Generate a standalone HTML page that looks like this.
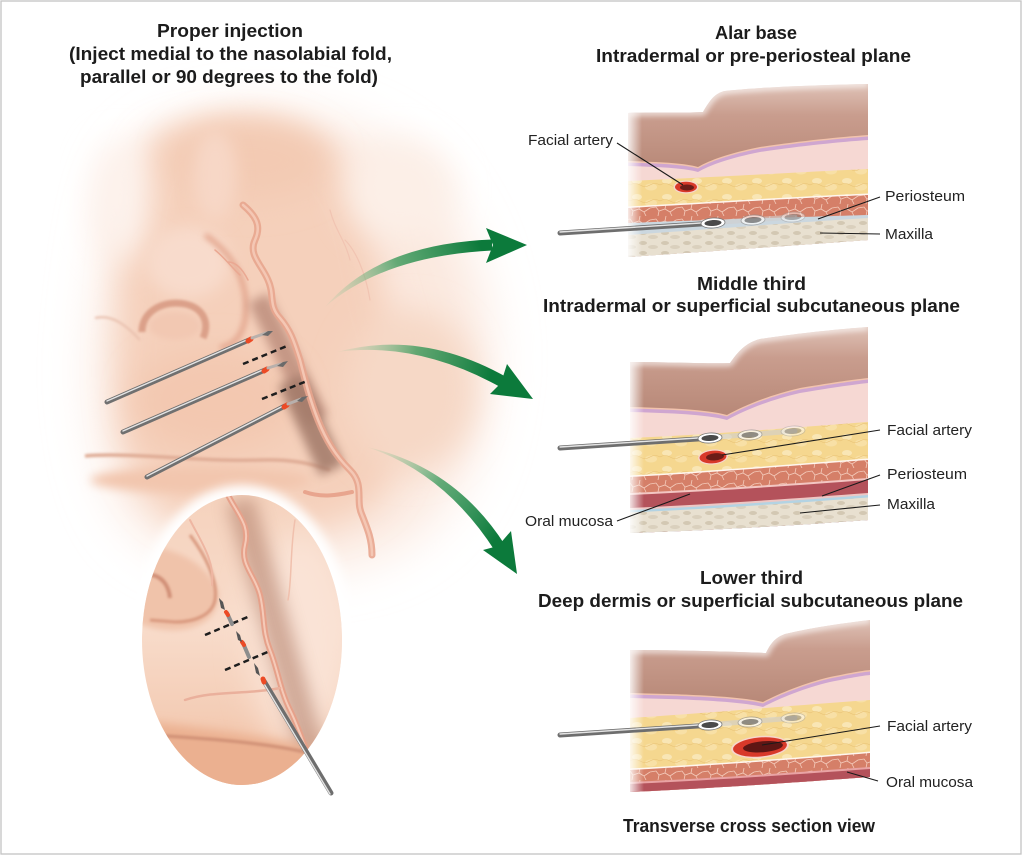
<!DOCTYPE html>
<html><head><meta charset="utf-8">
<style>
html,body{margin:0;padding:0;background:#fff;}
svg{display:block;}
.t{font-family:"Liberation Sans",sans-serif;font-weight:bold;font-size:18px;fill:#1c1c1c;}
.l{font-family:"Liberation Sans",sans-serif;font-size:15px;fill:#222;}
</style></head><body>
<svg width="1023" height="856" viewBox="0 0 1023 856" xmlns="http://www.w3.org/2000/svg">
<defs>
  <filter id="b25" x="-50%" y="-50%" width="200%" height="200%"><feGaussianBlur stdDeviation="25"/></filter>
  <filter id="b16" x="-50%" y="-50%" width="200%" height="200%"><feGaussianBlur stdDeviation="16"/></filter>
  <filter id="b8" x="-50%" y="-50%" width="200%" height="200%"><feGaussianBlur stdDeviation="8"/></filter>
  <filter id="b5" x="-50%" y="-50%" width="200%" height="200%"><feGaussianBlur stdDeviation="5"/></filter>
  <filter id="b3" x="-50%" y="-50%" width="200%" height="200%"><feGaussianBlur stdDeviation="3"/></filter>
  <filter id="b1" x="-50%" y="-50%" width="200%" height="200%"><feGaussianBlur stdDeviation="1.2"/></filter>

  <linearGradient id="brown" x1="0" y1="0" x2="0" y2="1">
    <stop offset="0" stop-color="#e2c7bc"/>
    <stop offset="0.35" stop-color="#c99d8e"/>
    <stop offset="1" stop-color="#b58574"/>
  </linearGradient>
  <linearGradient id="fadeL" x1="0" y1="0" x2="1" y2="0">
    <stop offset="0" stop-color="#fff" stop-opacity="0.95"/>
    <stop offset="1" stop-color="#fff" stop-opacity="0"/>
  </linearGradient>

  <pattern id="fat" width="30" height="16" patternUnits="userSpaceOnUse">
    <rect width="30" height="16" fill="#f5d78f"/>
    <ellipse cx="7" cy="5" rx="5" ry="3" fill="#f9e6b5"/>
    <ellipse cx="21" cy="11" rx="6" ry="3.5" fill="#f8e0a6"/>
    <path d="M0,9 q5,-3 10,0 t10,0 t10,0" stroke="#e9c275" fill="none" stroke-width=".6"/>
  </pattern>
  <pattern id="mus" width="26" height="12" patternUnits="userSpaceOnUse">
    <rect width="26" height="12" fill="#d57f68"/>
    <path d="M0,4 L6,3 L9,7 L15,5 L20,8 L26,4 M9,7 L8,12 M15,5 L16,0 M20,8 L22,12" stroke="#f4cbbb" stroke-width=".8" fill="none"/>
  </pattern>
  <pattern id="bone" width="22" height="10" patternUnits="userSpaceOnUse">
    <rect width="22" height="10" fill="#e8e0d0"/>
    <ellipse cx="5" cy="3" rx="4" ry="2" fill="#d3c8b3"/>
    <ellipse cx="15" cy="7" rx="5" ry="2" fill="#dad0bd"/>
  </pattern>

  <linearGradient id="ga1" gradientUnits="userSpaceOnUse" x1="325" y1="307" x2="480" y2="245">
    <stop offset="0" stop-color="#9fd0a8" stop-opacity="0.1"/>
    <stop offset="0.5" stop-color="#3d9a5c" stop-opacity="0.8"/>
    <stop offset="1" stop-color="#0c7a3b"/>
  </linearGradient>
  <linearGradient id="ga2" gradientUnits="userSpaceOnUse" x1="337" y1="350" x2="490" y2="380">
    <stop offset="0" stop-color="#9fd0a8" stop-opacity="0.1"/>
    <stop offset="0.5" stop-color="#3d9a5c" stop-opacity="0.8"/>
    <stop offset="1" stop-color="#0c7a3b"/>
  </linearGradient>
  <linearGradient id="ga3" gradientUnits="userSpaceOnUse" x1="367" y1="447" x2="495" y2="540">
    <stop offset="0" stop-color="#9fd0a8" stop-opacity="0.1"/>
    <stop offset="0.5" stop-color="#3d9a5c" stop-opacity="0.8"/>
    <stop offset="1" stop-color="#0c7a3b"/>
  </linearGradient>

  <linearGradient id="ovalG" x1="0" y1="0" x2="0" y2="1">
    <stop offset="0" stop-color="#f5d2bd"/>
    <stop offset="0.45" stop-color="#f8dccb"/>
    <stop offset="0.75" stop-color="#f4cdb6"/>
    <stop offset="1" stop-color="#eeb797"/>
  </linearGradient>

  <clipPath id="ovalClip"><ellipse cx="242" cy="640" rx="100" ry="145"/></clipPath>

  <clipPath id="c1"><path d="M628,113 C660,112 690,113 703,112 C710,100 715,93 725,91 C760,87 820,85 868,84 L868,240 C800,245 700,252 628,257 Z"/></clipPath>
  <clipPath id="c2"><path d="M630,362 C670,362 710,364 730,363 C738,352 745,343 760,339 C800,333 840,329 868,327 L868,520 C800,525 720,530 630,533 Z"/></clipPath>
  <clipPath id="c3"><path d="M630,650 C680,650 740,652 766,653 C770,645 774,638 785,634 C815,627 845,623 870,620 L870,777 C800,782 720,788 630,792 Z"/></clipPath>
</defs>

<rect x="1" y="1" width="1020" height="853" fill="#fff" stroke="#c4c4c4" stroke-width="1.3"/>

<!-- ================= FACE ================= -->
<g>
  <path d="M135,160 C178,105 310,95 390,150 C460,200 500,300 485,400 C473,480 435,540 360,560 C280,578 175,570 132,520 C95,470 92,380 100,310 C107,250 112,195 135,160 Z" fill="#fbe8de" filter="url(#b25)"/>
  <path d="M150,140 C195,112 290,118 338,160 C375,200 372,260 392,320 C410,385 420,440 382,495 C345,538 255,540 185,522 C138,505 118,450 118,380 C118,300 122,190 150,140 Z" fill="#f5d0bb" filter="url(#b16)"/>
  <ellipse cx="410" cy="390" rx="66" ry="80" fill="#f6d8c6" filter="url(#b16)"/>
  <ellipse cx="250" cy="160" rx="80" ry="40" fill="#f3cab3" filter="url(#b16)"/>
  <ellipse cx="215" cy="400" rx="80" ry="50" fill="#f3c8b0" filter="url(#b16)"/>
  <ellipse cx="120" cy="200" rx="30" ry="60" fill="#fdf2ec" filter="url(#b16)"/>
  <ellipse cx="400" cy="190" rx="55" ry="50" fill="#fcefe7" filter="url(#b16)"/>
  <!-- nose highlights -->
  <ellipse cx="188" cy="262" rx="42" ry="36" fill="#f8dbcc" filter="url(#b8)"/>
  <ellipse cx="215" cy="175" rx="22" ry="45" fill="#f7d7c6" filter="url(#b8)"/>
  <!-- ala crease -->
  <path d="M205,235 C235,255 250,285 245,320 C242,335 235,345 220,348" stroke="#e3a58d" stroke-width="5" fill="none" filter="url(#b3)"/>
  <!-- nostril -->
  <ellipse cx="175" cy="326" rx="26" ry="14" fill="#f2c8b2" filter="url(#b3)"/>
  <path d="M142,332 C142,310 165,300 185,304 C203,308 210,322 203,338" stroke="#dba089" stroke-width="7" fill="none" filter="url(#b1)"/>
  <path d="M95,318 C112,314 126,325 140,340" stroke="#e8bfad" stroke-width="2" fill="none" filter="url(#b1)"/>
  <!-- lips -->
  <ellipse cx="200" cy="480" rx="110" ry="13" fill="#f2c6ae" filter="url(#b5)"/>
  <path d="M85,456 C130,452 200,462 260,460 C290,459 310,463 330,470" stroke="#dfac95" stroke-width="3.5" fill="none" filter="url(#b1)"/>
  <!-- fold shadow -->
  <line x1="258" y1="298" x2="318" y2="420" stroke="#b98978" stroke-width="22" opacity="0.8" filter="url(#b5)"/>
  <line x1="290" y1="380" x2="332" y2="470" stroke="#a07868" stroke-width="26" opacity="0.85" filter="url(#b5)"/>
  <!-- vessels -->
  <g fill="none" stroke-linecap="round">
    <path d="M243,205 C255,215 262,225 255,240 C248,255 262,265 268,280 C275,295 268,305 280,318 C292,332 295,345 300,360 C305,380 310,400 318,420 C326,440 335,455 350,470 C365,485 355,500 362,515 C368,530 372,540 372,555" stroke="#e8a58e" stroke-width="7" opacity="0.9"/>
    <path d="M243,205 C255,215 262,225 255,240 C248,255 262,265 268,280 C275,295 268,305 280,318 C292,332 295,345 300,360 C305,380 310,400 318,420 C326,440 335,455 350,470 C365,485 355,500 362,515 C368,530 372,540 372,555" stroke="#f4c7b4" stroke-width="2.5"/>
    <path d="M352,492 C338,495 322,498 305,492" stroke="#e8a58e" stroke-width="4"/>
    <path d="M215,250 C225,258 232,268 240,275 M228,262 C235,262 242,268 248,280" stroke="#eaa892" stroke-width="1.5"/>
    <path d="M330,210 C335,230 345,240 350,260 M345,240 C355,250 365,270 370,300" stroke="#f1c4b2" stroke-width="1.2"/>
  </g>
  <!-- face needles -->
  <g stroke-linecap="round">
    <line x1="107" y1="402" x2="249" y2="340" stroke="#707070" stroke-width="5"/>
    <line x1="107" y1="401" x2="249" y2="339" stroke="#e4e4e4" stroke-width="1.4"/>
    <line x1="123" y1="432" x2="265" y2="370" stroke="#707070" stroke-width="5"/>
    <line x1="123" y1="431" x2="265" y2="369" stroke="#e4e4e4" stroke-width="1.4"/>
    <line x1="147" y1="477" x2="285" y2="406" stroke="#707070" stroke-width="5"/>
    <line x1="147" y1="476" x2="285" y2="405" stroke="#e4e4e4" stroke-width="1.4"/>
    <line x1="248" y1="341" x2="251" y2="339" stroke="#ec4a25" stroke-width="5"/>
    <line x1="264" y1="371" x2="267" y2="369" stroke="#ec4a25" stroke-width="5"/>
    <line x1="284" y1="407" x2="287" y2="405" stroke="#ec4a25" stroke-width="5"/>
    <line x1="252" y1="338" x2="266" y2="333" stroke="#b8b0ac" stroke-width="3"/>
    <line x1="268" y1="368" x2="281" y2="364" stroke="#b8b0ac" stroke-width="3"/>
    <line x1="288" y1="404" x2="301" y2="399" stroke="#b8b0ac" stroke-width="3"/>
    <path d="M262,335 L268,331 L273,331 L268,336 Z" fill="#6a6a6a"/>
    <path d="M277,366 L283,362 L288,361 L283,367 Z" fill="#6a6a6a"/>
    <path d="M297,401 L302,397 L308,396 L302,402 Z" fill="#6a6a6a"/>
  </g>
  <g stroke="#1e1e1e" stroke-width="2.5" stroke-dasharray="6 4">
    <line x1="243" y1="364" x2="287" y2="346"/>
    <line x1="262" y1="399" x2="307" y2="381"/>
  </g>
</g>

<!-- ================= OVAL INSET ================= -->
<ellipse cx="242" cy="640" rx="110" ry="155" fill="#fff" filter="url(#b5)"/>
<g clip-path="url(#ovalClip)">
  <rect x="140" y="494" width="205" height="294" fill="url(#ovalG)"/>
  <ellipse cx="300" cy="640" rx="50" ry="110" fill="#fae3d6" filter="url(#b16)"/>
  <path d="M130,545 C170,545 205,560 218,590 C222,612 205,628 180,630 C160,632 140,625 130,620 Z" fill="#f0c3aa" filter="url(#b3)"/>
  <path d="M190,535 C205,555 218,580 215,600 C212,615 195,622 175,622 L150,620" stroke="#d8977d" stroke-width="3" fill="none" filter="url(#b1)"/>
  <path d="M140,578 C152,570 168,578 170,598" stroke="#d08e76" stroke-width="4" fill="none" filter="url(#b1)"/>
  <line x1="240" y1="500" x2="318" y2="775" stroke="#b58470" stroke-width="28" opacity="0.6" filter="url(#b8)"/>
  <path d="M130,720 C180,725 250,735 300,745 L350,760 L350,800 L130,800 Z" fill="#ebb090" filter="url(#b5)"/>
  <path d="M150,735 C200,738 260,742 305,752" stroke="#cf8f74" stroke-width="3" fill="none" filter="url(#b1)"/>
  <g fill="none" stroke-linecap="round">
    <path d="M228,495 C238,515 250,525 245,545 C240,565 255,575 260,595 C265,615 262,630 270,650 C278,670 280,690 290,710 C300,730 305,750 315,770" stroke="#e6a18a" stroke-width="6"/>
    <path d="M228,495 C238,515 250,525 245,545 C240,565 255,575 260,595 C265,615 262,630 270,650 C278,670 280,690 290,710 C300,730 305,750 315,770" stroke="#f5cab8" stroke-width="2"/>
    <path d="M185,700 C215,690 245,695 280,688" stroke="#eab09c" stroke-width="2.5"/>
    <path d="M190,520 C200,540 215,560 212,585" stroke="#eeb6a2" stroke-width="2"/>
    <path d="M295,520 C290,550 292,580 288,600" stroke="#f0c0ad" stroke-width="1.5"/>
  </g>
  <g stroke="#1e1e1e" stroke-width="2.5" stroke-dasharray="6 4">
    <line x1="205" y1="635" x2="250" y2="616"/>
    <line x1="225" y1="670" x2="270" y2="651"/>
  </g>
</g>
<!-- oval needle (extends beyond oval) -->
<g stroke-linecap="round">
  <line x1="264" y1="681" x2="331" y2="793" stroke="#6e6e6e" stroke-width="5"/>
  <line x1="263" y1="682" x2="330" y2="794" stroke="#e4e4e4" stroke-width="1.4"/>
  <line x1="263" y1="679" x2="264" y2="682" stroke="#ec4a25" stroke-width="5"/>
  <line x1="227" y1="613" x2="232" y2="624" stroke="#8d8d8d" stroke-width="4"/>
  <line x1="226" y1="612" x2="228" y2="615" stroke="#ec4a25" stroke-width="4"/>
  <line x1="243" y1="643" x2="249" y2="657" stroke="#8d8d8d" stroke-width="4"/>
  <line x1="242" y1="642" x2="244" y2="645" stroke="#ec4a25" stroke-width="4"/>
  <path d="M219,598 L223,602 L225,610 L221,608 Z" fill="#555"/>
  <path d="M236,631 L240,635 L242,642 L238,640 Z" fill="#555"/>
  <path d="M254,663 L258,668 L260,676 L256,673 Z" fill="#555"/>
</g>

<!-- ================= ARROWS ================= -->
<path d="M325,307 Q378,244 492,239.5 L492,250.5 Q384,256 325,307 Z" fill="url(#ga1)"/>
<path d="M486,228 L527,245 L486,263 L493,245 Z" fill="#0c7a3b"/>
<path d="M337,352 Q422,329 508,378 L502,388 Q418,341 337,352 Z" fill="url(#ga2)"/>
<path d="M507,364 L533,399 L490,394 L501,383 Z" fill="#0c7a3b"/>
<path d="M367,447 Q455,467 505,545 L495,551 Q445,473 367,447 Z" fill="url(#ga3)"/>
<path d="M511,531 L517,574 L483,550 L498,546 Z" fill="#0c7a3b"/>

<!-- ================= TITLES ================= -->
<text class="t" x="157" y="37" textLength="146" lengthAdjust="spacingAndGlyphs">Proper injection</text>
<text class="t" x="69" y="60" textLength="323" lengthAdjust="spacingAndGlyphs">(Inject medial to the nasolabial fold,</text>
<text class="t" x="80" y="83" textLength="298" lengthAdjust="spacingAndGlyphs">parallel or 90 degrees to the fold)</text>

<text class="t" x="715" y="39" textLength="82" lengthAdjust="spacingAndGlyphs">Alar base</text>
<text class="t" x="596" y="62" textLength="315" lengthAdjust="spacingAndGlyphs">Intradermal or pre-periosteal plane</text>
<text class="t" x="697" y="290" textLength="109" lengthAdjust="spacingAndGlyphs">Middle third</text>
<text class="t" x="543" y="312" textLength="417" lengthAdjust="spacingAndGlyphs">Intradermal or superficial subcutaneous plane</text>
<text class="t" x="700" y="584" textLength="103" lengthAdjust="spacingAndGlyphs">Lower third</text>
<text class="t" x="538" y="607" textLength="425" lengthAdjust="spacingAndGlyphs">Deep dermis or superficial subcutaneous plane</text>
<text class="t" x="623" y="832" textLength="252" lengthAdjust="spacingAndGlyphs">Transverse cross section view</text>

<!-- ================= SECTION 1 ================= -->
<g clip-path="url(#c1)">
  <rect x="620" y="80" width="255" height="100" fill="url(#brown)"/>
  <path transform="translate(0,-5)" d="M628,166 C660,167 685,168 698,172 C710,165 730,158 760,152 C800,146 840,142 868,140 L868,270 L628,270 Z" fill="#f2c3ad"/>
  <path transform="translate(0,-3.5)" d="M628,166 C660,167 685,168 698,172 C710,165 730,158 760,152 C800,146 840,142 868,140 L868,270 L628,270 Z" fill="#cfa6d0"/>
  <path d="M628,166 C660,167 685,168 698,172 C710,165 730,158 760,152 C800,146 840,142 868,140 L868,270 L628,270 Z" fill="#f6d8d3"/>
  <path d="M628,181 C700,178 800,172 868,169 L868,270 L628,270 Z" fill="url(#fat)"/>
  <path transform="translate(0,-1.5)" d="M628,208 C700,204 800,198 868,195 L868,270 L628,270 Z" fill="#fff6ee"/>
  <path d="M628,208 C700,204 800,198 868,195 L868,270 L628,270 Z" fill="url(#mus)"/>
  <path d="M628,223 C700,220 800,217 868,215 L868,270 L628,270 Z" fill="#cbd7df"/>
  <path d="M628,235 C700,230 800,222 868,218 L868,270 L628,270 Z" fill="url(#bone)"/>
  <path d="M628,113 C660,112 690,113 703,112 C710,100 715,93 725,91 C760,87 820,85 868,84" stroke="#fff" stroke-width="6" fill="none" opacity="0.7" filter="url(#b3)"/>
  <rect x="626" y="80" width="16" height="185" fill="url(#fadeL)"/>
</g>
<ellipse cx="686" cy="187" rx="12.5" ry="6.5" fill="#f6d6cc"/>
<ellipse cx="686" cy="187" rx="11" ry="5.3" fill="#d8392a"/>
<ellipse cx="687" cy="187.5" rx="7" ry="3" fill="#6b1c18"/>
<g stroke-linecap="round">
  <line x1="708" y1="223" x2="795" y2="217" stroke="#d0d0d0" stroke-width="5" opacity="0.6"/>
  <line x1="560" y1="233" x2="708" y2="223.5" stroke="#6e6e6e" stroke-width="5"/>
  <line x1="560" y1="232" x2="708" y2="222.5" stroke="#e4e4e4" stroke-width="1.4"/>
</g>
<g transform="rotate(-4 713 223)"><ellipse cx="713" cy="223" rx="12" ry="5" fill="#fff" stroke="#777" stroke-width="0.8"/><ellipse cx="713" cy="223" rx="8.5" ry="3" fill="#4a4a4a"/></g>
<g opacity="0.65" transform="rotate(-4 753 220)"><ellipse cx="753" cy="220" rx="12" ry="5" fill="#fff" stroke="#888" stroke-width="0.8"/><ellipse cx="753" cy="220" rx="8.5" ry="3" fill="#666"/></g>
<g opacity="0.45" transform="rotate(-4 793 217)"><ellipse cx="793" cy="217" rx="12" ry="5" fill="#fff" stroke="#999" stroke-width="0.8"/><ellipse cx="793" cy="217" rx="8.5" ry="3" fill="#777"/></g>
<g stroke="#1a1a1a" stroke-width="1.1">
  <line x1="617" y1="143" x2="683" y2="185"/>
  <line x1="880" y1="197" x2="818" y2="219"/>
  <line x1="880" y1="234" x2="820" y2="233"/>
</g>
<text class="l" x="528" y="145" textLength="85" lengthAdjust="spacingAndGlyphs">Facial artery</text>
<text class="l" x="885" y="201" textLength="80" lengthAdjust="spacingAndGlyphs">Periosteum</text>
<text class="l" x="885" y="239" textLength="48" lengthAdjust="spacingAndGlyphs">Maxilla</text>

<!-- ================= SECTION 2 ================= -->
<g clip-path="url(#c2)">
  <rect x="620" y="322" width="255" height="102" fill="url(#brown)"/>
  <path transform="translate(0,-5)" d="M630,412 C665,413 705,414 727,420 C745,410 770,400 800,393 C830,388 850,385 868,383 L868,545 L630,545 Z" fill="#f2c3ad"/>
  <path transform="translate(0,-3.5)" d="M630,412 C665,413 705,414 727,420 C745,410 770,400 800,393 C830,388 850,385 868,383 L868,545 L630,545 Z" fill="#cfa6d0"/>
  <path d="M630,412 C665,413 705,414 727,420 C745,410 770,400 800,393 C830,388 850,385 868,383 L868,545 L630,545 Z" fill="#f6d8d3"/>
  <path d="M630,438 C720,434 800,427 868,422 L868,545 L630,545 Z" fill="url(#fat)"/>
  <path transform="translate(0,-1.5)" d="M630,477 C720,472 800,465 868,460 L868,545 L630,545 Z" fill="#fff6ee"/>
  <path d="M630,477 C720,472 800,465 868,460 L868,545 L630,545 Z" fill="url(#mus)"/>
  <path d="M630,493 C720,489 800,483 868,478 L868,545 L630,545 Z" fill="#f3c6c2"/>
  <path d="M630,495 C720,491 800,485 868,480 L868,545 L630,545 Z" fill="#b4525b"/>
  <path d="M630,508 C720,504 800,498 868,493 L868,545 L630,545 Z" fill="#eec7c4"/>
  <path d="M630,510 C720,506 800,500 868,495 L868,545 L630,545 Z" fill="#b3d3e3"/>
  <path d="M630,512.5 C720,508.5 800,502.5 868,497.5 L868,545 L630,545 Z" fill="url(#bone)"/>
  <path d="M630,362 C670,362 710,364 730,363 C738,352 745,343 760,339 C800,333 840,329 868,327" stroke="#fff" stroke-width="6" fill="none" opacity="0.7" filter="url(#b3)"/>
  <rect x="628" y="322" width="16" height="215" fill="url(#fadeL)"/>
</g>
<ellipse cx="713" cy="457" rx="15" ry="7.5" fill="#f6d6cc" transform="rotate(-5 713 457)"/>
<ellipse cx="713" cy="457" rx="13.5" ry="6.3" fill="#d8392a" transform="rotate(-5 713 457)"/>
<ellipse cx="715" cy="457" rx="9" ry="3.6" fill="#6b1c18" transform="rotate(-5 713 457)"/>
<g stroke-linecap="round">
  <line x1="705" y1="438" x2="795" y2="431" stroke="#d0d0d0" stroke-width="5" opacity="0.6"/>
  <line x1="560" y1="448" x2="705" y2="438.5" stroke="#6e6e6e" stroke-width="5"/>
  <line x1="560" y1="447" x2="705" y2="437.5" stroke="#e4e4e4" stroke-width="1.4"/>
</g>
<g transform="rotate(-4 710 438)"><ellipse cx="710" cy="438" rx="12" ry="5" fill="#fff" stroke="#777" stroke-width="0.8"/><ellipse cx="710" cy="438" rx="8.5" ry="3" fill="#4a4a4a"/></g>
<g opacity="0.65" transform="rotate(-4 750 435)"><ellipse cx="750" cy="435" rx="12" ry="5" fill="#fff" stroke="#888" stroke-width="0.8"/><ellipse cx="750" cy="435" rx="8.5" ry="3" fill="#666"/></g>
<g opacity="0.45" transform="rotate(-4 793 431)"><ellipse cx="793" cy="431" rx="12" ry="5" fill="#fff" stroke="#999" stroke-width="0.8"/><ellipse cx="793" cy="431" rx="8.5" ry="3" fill="#777"/></g>
<g stroke="#1a1a1a" stroke-width="1.1">
  <line x1="880" y1="430" x2="722" y2="455"/>
  <line x1="880" y1="475" x2="822" y2="496"/>
  <line x1="880" y1="505" x2="800" y2="513"/>
  <line x1="617" y1="521" x2="690" y2="494"/>
</g>
<text class="l" x="887" y="435" textLength="85" lengthAdjust="spacingAndGlyphs">Facial artery</text>
<text class="l" x="887" y="479" textLength="80" lengthAdjust="spacingAndGlyphs">Periosteum</text>
<text class="l" x="887" y="509" textLength="48" lengthAdjust="spacingAndGlyphs">Maxilla</text>
<text class="l" x="525" y="526" textLength="88" lengthAdjust="spacingAndGlyphs">Oral mucosa</text>

<!-- ================= SECTION 3 ================= -->
<g clip-path="url(#c3)">
  <rect x="620" y="615" width="255" height="97" fill="url(#brown)"/>
  <path transform="translate(0,-5)" d="M630,698 C680,699 740,701 763,707 C780,698 805,688 830,682 C850,678 860,676 870,675 L870,800 L630,800 Z" fill="#f2c3ad"/>
  <path transform="translate(0,-3.5)" d="M630,698 C680,699 740,701 763,707 C780,698 805,688 830,682 C850,678 860,676 870,675 L870,800 L630,800 Z" fill="#cfa6d0"/>
  <path d="M630,698 C680,699 740,701 763,707 C780,698 805,688 830,682 C850,678 860,676 870,675 L870,800 L630,800 Z" fill="#f6d8d3"/>
  <path d="M630,718 C720,712 800,705 870,700 L870,800 L630,800 Z" fill="url(#fat)"/>
  <path transform="translate(0,-1.5)" d="M630,770 C720,765 800,759 870,753 L870,800 L630,800 Z" fill="#fff6ee"/>
  <path d="M630,770 C720,765 800,759 870,753 L870,800 L630,800 Z" fill="url(#mus)"/>
  <path d="M630,782 C720,778 800,772 870,767 L870,800 L630,800 Z" fill="#e9a3a4"/>
  <path d="M630,784 C720,780 800,774 870,769 L870,800 L630,800 Z" fill="#b4525b"/>
  <path d="M630,650 C680,650 740,652 766,653 C770,645 774,638 785,634 C815,627 845,623 870,620" stroke="#fff" stroke-width="6" fill="none" opacity="0.7" filter="url(#b3)"/>
  <rect x="628" y="615" width="16" height="180" fill="url(#fadeL)"/>
</g>
<g transform="rotate(-5 760 747)">
  <ellipse cx="760" cy="747" rx="29" ry="11" fill="#f6d6cc"/>
  <ellipse cx="760" cy="747" rx="27" ry="9.5" fill="#d8392a"/>
  <ellipse cx="763" cy="747" rx="20" ry="5.5" fill="#5e1614"/>
</g>
<g stroke-linecap="round">
  <line x1="705" y1="725" x2="795" y2="718" stroke="#d0d0d0" stroke-width="5" opacity="0.6"/>
  <line x1="560" y1="735" x2="705" y2="725.5" stroke="#6e6e6e" stroke-width="5"/>
  <line x1="560" y1="734" x2="705" y2="724.5" stroke="#e4e4e4" stroke-width="1.4"/>
</g>
<g transform="rotate(-4 710 725)"><ellipse cx="710" cy="725" rx="12" ry="5" fill="#fff" stroke="#777" stroke-width="0.8"/><ellipse cx="710" cy="725" rx="8.5" ry="3" fill="#4a4a4a"/></g>
<g opacity="0.65" transform="rotate(-4 750 722)"><ellipse cx="750" cy="722" rx="12" ry="5" fill="#fff" stroke="#888" stroke-width="0.8"/><ellipse cx="750" cy="722" rx="8.5" ry="3" fill="#666"/></g>
<g opacity="0.45" transform="rotate(-4 793 718)"><ellipse cx="793" cy="718" rx="12" ry="5" fill="#fff" stroke="#999" stroke-width="0.8"/><ellipse cx="793" cy="718" rx="8.5" ry="3" fill="#777"/></g>
<g stroke="#1a1a1a" stroke-width="1.1">
  <line x1="880" y1="726" x2="762" y2="745"/>
  <line x1="878" y1="781" x2="847" y2="772"/>
</g>
<text class="l" x="887" y="731" textLength="85" lengthAdjust="spacingAndGlyphs">Facial artery</text>
<text class="l" x="886" y="787" textLength="87" lengthAdjust="spacingAndGlyphs">Oral mucosa</text>

</svg>
</body></html>
